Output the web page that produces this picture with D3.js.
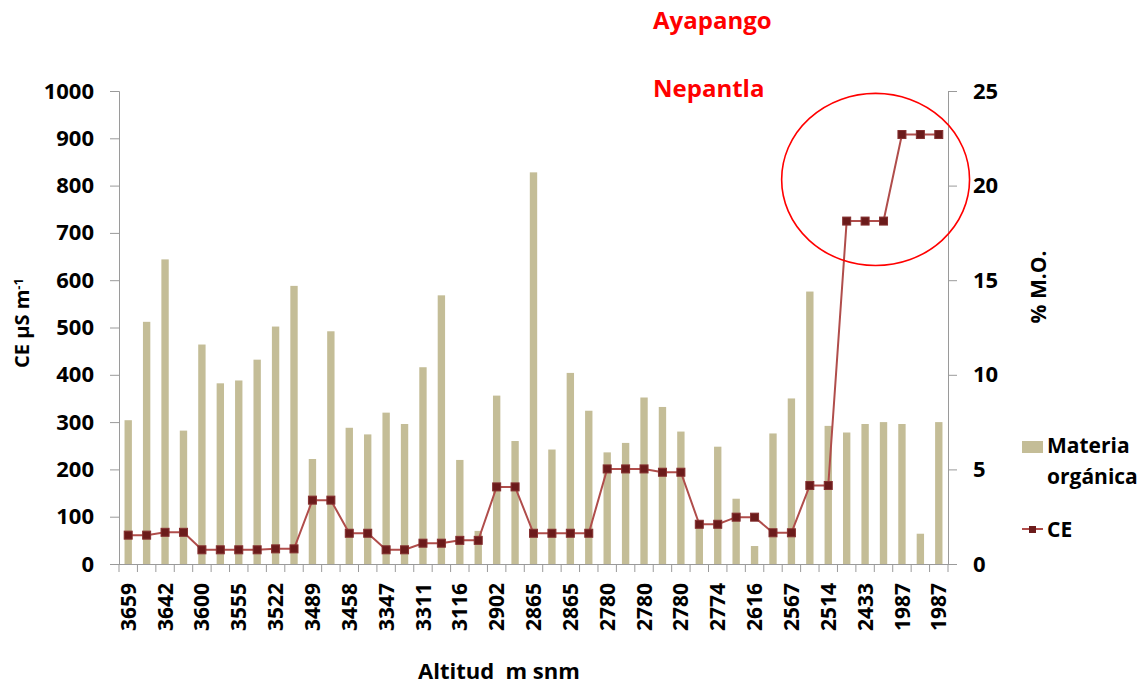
<!DOCTYPE html>
<html>
<head>
<meta charset="utf-8">
<script src="https://cdn.jsdelivr.net/npm/d3@7/dist/d3.min.js"></script>
<style>
  html, body { margin: 0; padding: 0; background: #fff; }
  svg { display: block; }
  text { font-family: "Open Sans", "Noto Sans", sans-serif; font-weight: 700; fill: #000; }
</style>
</head>
<body>
<svg id="chart" width="1144" height="687"></svg>
<script>
// ---- data ----
const altitudes = [3659,3659,3642,3642,3600,3600,3555,3555,3522,3522,3489,3489,3458,3458,3347,3347,3311,3311,3116,3116,2902,2902,2865,2865,2865,2865,2780,2780,2780,2780,2780,2774,2774,2616,2616,2567,2567,2514,2514,2433,2433,2433,1987,1987,1987];
const materiaOrganica = [7.6,12.8,16.1,7.05,11.6,9.55,9.7,10.8,12.55,14.7,5.55,12.3,7.2,6.85,8.0,7.4,10.4,14.2,5.5,1.75,8.9,6.5,20.7,6.05,10.1,8.1,5.9,6.4,8.8,8.3,7.0,2.15,6.2,3.45,0.95,6.9,8.75,14.4,7.3,6.95,7.4,7.5,7.4,1.6,7.5];
const ce = [61,61,67,67,30,30,30,30,32,32,135,135,65,65,30,30,44,44,50,50,163,163,65,65,65,65,201,201,201,194,194,84,84,99,99,66,66,166,166,725,725,725,908,908,908];
const leftTicks = [0,100,200,300,400,500,600,700,800,900,1000];
const rightTicks = [0,5,10,15,20,25];
const siteLabels = ["Ayapango", "Nepantla"];
// annotation ellipse (category index / CE units)
const highlight = { cx: 40.57, cy: 813, rxSteps: 5.1, ryUnits: 182 };

// ---- layout ----
const svg = d3.select("#chart");
const plot = { left: 119, right: 948, top: 91, bottom: 564 };
const idx = d3.range(altitudes.length);

const x = d3.scaleBand().domain(idx).range([plot.left, plot.right])
  .paddingInner(0.6).paddingOuter(0.3);
const xPoint = i => x(i) + x.bandwidth() / 2;
const step = x.step();
const yL = d3.scaleLinear().domain([0, 1000]).range([plot.bottom, plot.top]);
const yR = d3.scaleLinear().domain([0, 25]).range([plot.bottom, plot.top]);

const axisColor = "#9a9a9a";
const barColor = "#c4bd97";
const lineColor = "#b04d4b";
const markerFill = "#6b1b1b";
const markerStroke = "#853030";

// bars (Materia orgánica, right axis)
svg.append("g").selectAll("rect").data(materiaOrganica).join("rect")
  .attr("x", (d, i) => x(i))
  .attr("width", x.bandwidth())
  .attr("y", d => yR(d))
  .attr("height", d => yR(0) - yR(d))
  .attr("fill", barColor);

// left axis
const gL = svg.append("g").attr("transform", `translate(${plot.left},0)`)
  .call(d3.axisLeft(yL).tickValues(leftTicks).tickSize(9).tickPadding(16).tickFormat(d3.format("d")));
// right axis
const gR = svg.append("g").attr("transform", `translate(${plot.right},0)`)
  .call(d3.axisRight(yR).tickValues(rightTicks).tickSize(9).tickPadding(16).tickFormat(d3.format("d")));
[gL, gR].forEach(g => {
  g.select(".domain").attr("stroke", axisColor);
  g.selectAll(".tick line").attr("stroke", axisColor);
  g.selectAll(".tick text").style("font-size", "22px").style("font-weight", 700)
    .style("font-family", '"Open Sans", sans-serif').attr("fill", "#000");
});

// x axis: ticks at category boundaries
const gX = svg.append("g");
gX.append("line").attr("x1", plot.left).attr("x2", plot.right)
  .attr("y1", plot.bottom + 0.5).attr("y2", plot.bottom + 0.5).attr("stroke", axisColor);
gX.selectAll("line.b").data(d3.range(altitudes.length + 1)).join("line")
  .attr("class", "b")
  .attr("x1", i => plot.left + i * step).attr("x2", i => plot.left + i * step)
  .attr("y1", plot.bottom).attr("y2", plot.bottom + 8).attr("stroke", axisColor);
gX.selectAll("text").data(idx.filter(i => i % 2 === 0)).join("text")
  .attr("transform", i => `translate(${xPoint(i)},${plot.bottom + 19}) rotate(-90)`)
  .attr("text-anchor", "end").attr("dy", "0.36em")
  .style("font-size", "21px")
  .text(i => altitudes[i]);

// CE line (left axis)
const line = d3.line().x((d, i) => xPoint(i)).y(d => yL(d));
svg.append("path").datum(ce).attr("d", line)
  .attr("fill", "none").attr("stroke", lineColor).attr("stroke-width", 2);
svg.append("g").selectAll("rect").data(ce).join("rect")
  .attr("x", (d, i) => xPoint(i) - 4).attr("y", d => yL(d) - 4)
  .attr("width", 8).attr("height", 8)
  .attr("fill", markerFill).attr("stroke", markerStroke).attr("stroke-width", 1);

// highlight ellipse
svg.append("ellipse")
  .attr("cx", xPoint(0) + highlight.cx * step)
  .attr("cy", yL(highlight.cy))
  .attr("rx", highlight.rxSteps * step)
  .attr("ry", yL(0) - yL(highlight.ryUnits))
  .attr("fill", "none").attr("stroke", "#ff0000").attr("stroke-width", 1.6);

// site labels
svg.append("text").attr("x", 653).attr("y", 29).style("font-size", "24px")
  .style("fill", "#ff0000").text(siteLabels[0]);
svg.append("text").attr("x", 653).attr("y", 97).style("font-size", "24px")
  .style("fill", "#ff0000").text(siteLabels[1]);

// axis titles
const tL = svg.append("text").attr("transform", "translate(29,323) rotate(-90)")
  .attr("text-anchor", "middle").style("font-size", "20px");
tL.append("tspan").text("CE µS m");
tL.append("tspan").attr("dy", "-0.45em").style("font-size", "13px").text("-1");

svg.append("text").attr("transform", "translate(1046,287) rotate(-90)")
  .attr("text-anchor", "middle").style("font-size", "21px").text("% M.O.");

svg.append("text").attr("x", 418).attr("y", 679).style("font-size", "22px")
  .style("white-space", "pre").attr("xml:space", "preserve").text("Altitud  m snm");

// legend
const lg = svg.append("g");
lg.append("rect").attr("x", 1022).attr("y", 441).attr("width", 21).attr("height", 12).attr("fill", barColor);
lg.append("text").attr("x", 1047).attr("y", 453).style("font-size", "21px").text("Materia");
lg.append("text").attr("x", 1047).attr("y", 484).style("font-size", "21px").text("orgánica");
lg.append("line").attr("x1", 1022).attr("x2", 1043).attr("y1", 529).attr("y2", 529)
  .attr("stroke", lineColor).attr("stroke-width", 2);
lg.append("rect").attr("x", 1029).attr("y", 526).attr("width", 7).attr("height", 7)
  .attr("fill", markerFill);
lg.append("text").attr("x", 1047).attr("y", 537).style("font-size", "21px").text("CE");
</script>
</body>
</html>
